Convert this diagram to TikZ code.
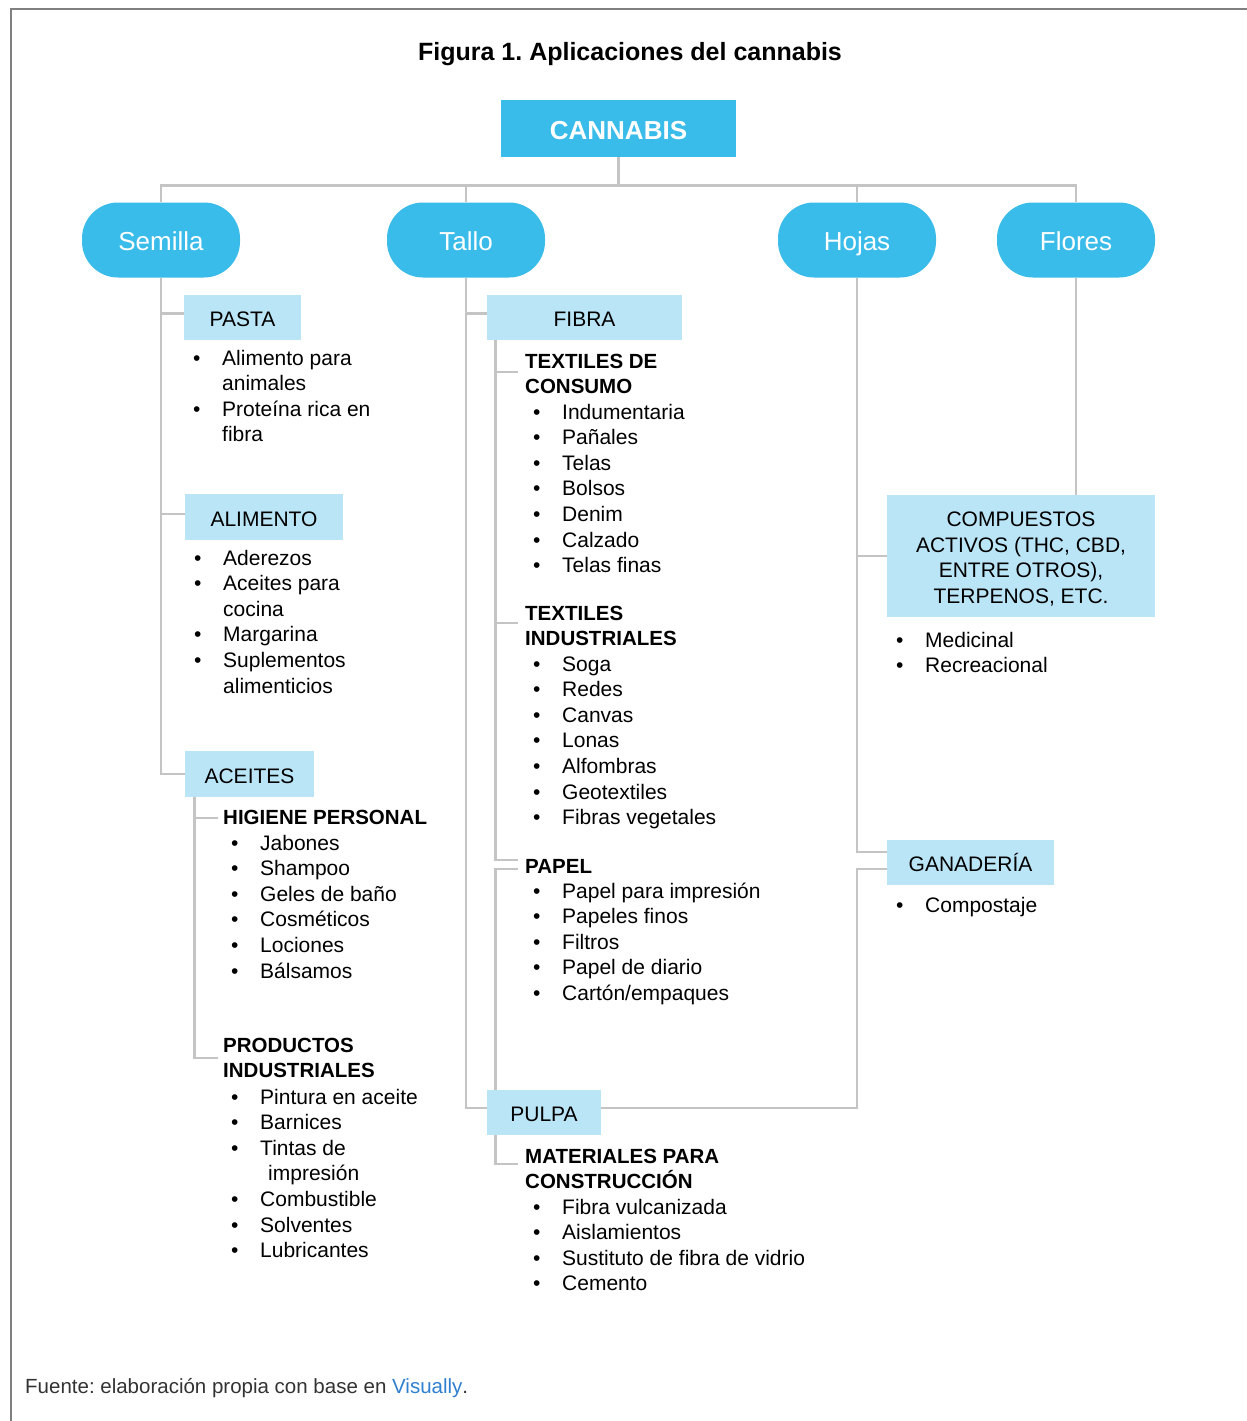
\documentclass[tikz,border=0pt]{standalone}
\usepackage{fontspec}
\setmainfont{Liberation Sans}
\usepackage{array}
\frenchspacing
\definecolor{cyanbox}{HTML}{3ABCEA}
\definecolor{lightbox}{HTML}{BAE5F7}
\definecolor{linegray}{HTML}{C4C4C4}
\definecolor{framegray}{HTML}{808080}
\definecolor{linkblue}{HTML}{2F80D0}
\definecolor{footgray}{HTML}{333333}
\newcommand{\blist}[4]{%
  \node[listtext, anchor=base west] (#1) at (#2-29,#3)
    {\begin{tabular}[t]{@{}p{29pt}@{}l@{}}#4\end{tabular}};}
\newcommand{\hdr}[4]{%
  \node[headtext, anchor=base west] (#1) at (#2,#3)
    {\begin{tabular}[t]{@{}l@{}}#4\end{tabular}};}
\newcommand{\catbox}[6]{%
  \node[catbox, minimum width={#4-#2}, minimum height={#5-#3}] (#1)
    at ({(#2+#4)/2},{(#3+#5)/2}) {#6};}
\begin{document}
\begin{tikzpicture}[x=1pt,y=-1pt,
  conn/.style={draw=linegray, line width=2.8pt, line join=miter},
  ovalnode/.style={fill=cyanbox, rounded corners=36pt, minimum width=158pt,
    minimum height=75pt, text=white, font=\fontsize{26}{30}\selectfont,
    text height=20.6pt, text depth=0pt, inner sep=0pt},
  catbox/.style={fill=lightbox, inner sep=0pt, font=\fontsize{21}{25.6}\selectfont,
    text height=18pt, text depth=0pt},
  listtext/.style={inner sep=0pt, font=\fontsize{21}{25.6}\selectfont},
  headtext/.style={inner sep=0pt, font=\bfseries\fontsize{20.5}{25.6}\selectfont}]
\useasboundingbox (0,0) rectangle (1247,1421);
\fill[white] (0,0) rectangle (1247,1421);
\draw[framegray, line width=2pt] (1247,9) -- (11,9) -- (11,1421);

% title
\node[anchor=base, inner sep=0pt, font=\bfseries\fontsize{25}{30}\selectfont] (title)
  at (630,61) {Figura 1. Aplicaciones del cannabis};

% main nodes
\node[fill=cyanbox, minimum width=235pt, minimum height=57pt, inner sep=0pt, text=white,
  font=\bfseries\fontsize{26}{30}\selectfont, text height=21.6pt, text depth=0pt]
  (cannabis) at (618.5,128.5) {CANNABIS};
\node[ovalnode] (semilla) at (161,240) {Semilla};
\node[ovalnode] (tallo) at (466,240) {Tallo};
\node[ovalnode] (hojas) at (857,240) {Hojas};
\node[ovalnode] (flores) at (1076,240) {Flores};

% category boxes
\catbox{pasta}{184}{295}{301}{340}{PASTA}
\catbox{alimento}{185}{494}{343}{540}{ALIMENTO}
\catbox{aceites}{185}{751}{314}{797}{ACEITES}
\catbox{fibra}{487}{295}{682}{340}{FIBRA}
\catbox{pulpa}{487}{1090}{601}{1135}{PULPA}
\catbox{ganaderia}{887}{840}{1054}{885}{GANADERÍA}
\node[fill=lightbox, minimum width=268pt, minimum height=122pt, inner sep=0pt,
  align=center, font=\fontsize{21}{25.6}\selectfont] (compuestos) at (1021,556)
  {\rule{0pt}{21pt}COMPUESTOS\\ACTIVOS (THC, CBD,\\ENTRE OTROS),\\TERPENOS, ETC.};

% lists
\blist{pastalist}{222}{365}{• & Alimento para\\ & animales\\ • & Proteína rica en\\ & fibra}
\blist{alimlist}{223}{565}{• & Aderezos\\ • & Aceites para\\ & cocina\\ • & Margarina\\ • & Suplementos\\ & alimenticios}
\hdr{higiene}{223}{824}{HIGIENE PERSONAL}
\blist{higlist}{260}{850}{• & Jabones\\ • & Shampoo\\ • & Geles de baño\\ • & Cosméticos\\ • & Lociones\\ • & Bálsamos}
\hdr{productos}{223}{1052}{PRODUCTOS\\INDUSTRIALES}
\blist{prodlist}{260}{1104}{• & Pintura en aceite\\ • & Barnices\\ • & Tintas de\\ & \hspace{8pt}impresión\\ • & Combustible\\ • & Solventes\\ • & Lubricantes}
\hdr{texcons}{525}{368}{TEXTILES DE\\CONSUMO}
\blist{conslist}{562}{419}{• & Indumentaria\\ • & Pañales\\ • & Telas\\ • & Bolsos\\ • & Denim\\ • & Calzado\\ • & Telas finas}
\hdr{texind}{525}{620}{TEXTILES\\INDUSTRIALES}
\blist{indlist}{562}{671}{• & Soga\\ • & Redes\\ • & Canvas\\ • & Lonas\\ • & Alfombras\\ • & Geotextiles\\ • & Fibras vegetales}
\hdr{papel}{525}{873}{PAPEL}
\blist{papellist}{562}{898}{• & Papel para impresión\\ • & Papeles finos\\ • & Filtros\\ • & Papel de diario\\ • & Cartón/empaques}
\hdr{materiales}{525}{1163}{MATERIALES PARA\\CONSTRUCCIÓN}
\blist{matlist}{562}{1214}{• & Fibra vulcanizada\\ • & Aislamientos\\ • & Sustituto de fibra de vidrio\\ • & Cemento}
\blist{complist}{925}{647}{• & Medicinal\\ • & Recreacional}
\blist{ganlist}{925}{912}{• & Compostaje}

% footer
\node[anchor=base west, inner sep=0pt, text=footgray, font=\fontsize{20.5}{25}\selectfont]
  (footer) at (25,1393) {Fuente: elaboración propia con base en \textcolor{linkblue}{Visually}.};

% connectors: top
\draw[conn] (cannabis.south) -- ++(0,28) coordinate (jc);
\draw[conn] (semilla.north) -- (semilla.north |- jc) -- (flores.north |- jc) -- (flores.north);
\draw[conn] (tallo.north |- jc) -- (tallo.north);
\draw[conn] (hojas.north |- jc) -- (hojas.north);

% Semilla
\coordinate (pastaJ) at ([yshift=4pt]pasta.west);
\coordinate (alimJ) at ([yshift=3pt]alimento.west);
\draw[conn] (semilla.south) -- (semilla.south |- aceites.west) -- (aceites.west);
\draw[conn] (semilla.south |- pastaJ) -- (pastaJ);
\draw[conn] (semilla.south |- alimJ) -- (alimJ);
\coordinate (aceA) at ([xshift=10pt]aceites.south west);
\coordinate (higJ) at ([xshift=-5pt,yshift=6pt]higiene.base west);
\coordinate (prodJ) at ([xshift=-5pt,yshift=-6pt]productos.base west);
\draw[conn] (aceA) -- (aceA |- prodJ) -- (prodJ);
\draw[conn] (aceA |- higJ) -- (higJ);

% Tallo
\coordinate (pulpaJ) at ([yshift=4.5pt]pulpa.west);
\coordinate (fibraJ) at ([yshift=4pt]fibra.west);
\draw[conn] (tallo.south) -- (tallo.south |- pulpaJ) -- (pulpaJ);
\draw[conn] (tallo.south |- fibraJ) -- (fibraJ);
\coordinate (fibA) at ([xshift=9pt]fibra.south west);
\coordinate (consJ) at ([xshift=-7pt,yshift=-4pt]texcons.base west);
\coordinate (indJ) at ([xshift=-7pt,yshift=-3pt]texind.base west);
\coordinate (papJa) at ([xshift=-7pt,yshift=13pt]papel.base west);
\coordinate (papJb) at ([xshift=-7pt,yshift=4pt]papel.base west);
\coordinate (matJ) at ([xshift=-7pt,yshift=-1pt]materiales.base west);
\draw[conn] (fibA) -- (fibA |- papJa) -- (papJa);
\draw[conn] (fibA |- consJ) -- (consJ);
\draw[conn] (fibA |- indJ) -- (indJ);
\draw[conn] (papJb) -- (fibA |- papJb) -- (fibA |- pulpa.north);
\draw[conn] (fibA |- pulpa.south) -- (fibA |- matJ) -- (matJ);

% Hojas
\coordinate (ganJa) at ([yshift=10.5pt]ganaderia.west);
\coordinate (ganJb) at ([yshift=-6.5pt]ganaderia.west);
\draw[conn] (hojas.south) -- (hojas.south |- ganJa) -- (ganJa);
\draw[conn] (hojas.south |- compuestos.west) -- (compuestos.west);
\draw[conn] (ganJb) -- (hojas.south |- ganJb) -- (hojas.south |- pulpaJ) -- (pulpa.east |- pulpaJ);

% Flores
\draw[conn] (flores.south) -- (flores.south |- compuestos.north);
\end{tikzpicture}
\end{document}
